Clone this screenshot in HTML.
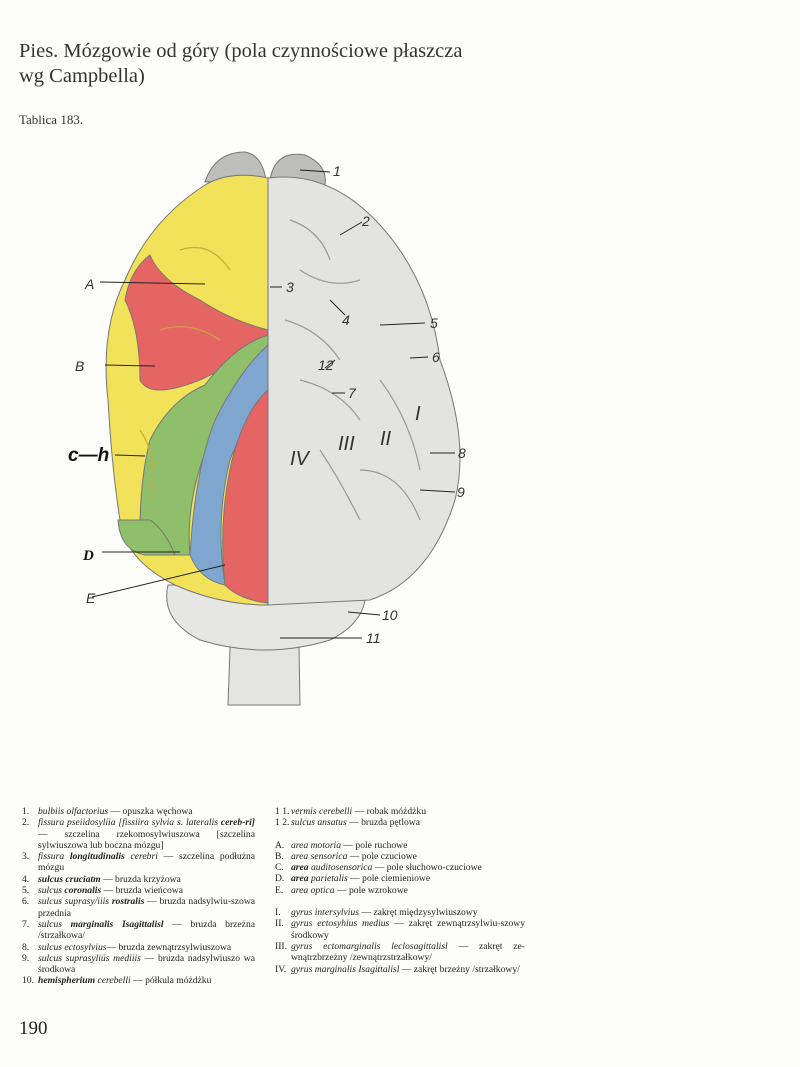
<!DOCTYPE html>
<html><head><meta charset="utf-8"><style>
body{margin:0;background:#fff;}
.pg{position:relative;width:800px;height:1067px;background:#fdfdfc;overflow:hidden;font-family:"Liberation Serif",serif;color:#222;}
.t{position:absolute;left:19px;top:39px;font-size:20.5px;line-height:25px;color:#333;}
.tab{position:absolute;left:19px;top:112px;font-size:13px;color:#333;}
.leg{position:absolute;font-size:9.6px;line-height:11.3px;color:#222;}
.leg div{position:relative;padding-left:16px;text-align:justify;}
.leg span.n{position:absolute;left:0;}
.pn{position:absolute;left:19px;top:1018px;font-size:19px;}
</style></head><body><div class="pg">
<div class="t">Pies. Mózgowie od góry (pola czynnościowe płaszcza<br>wg Campbella)</div>
<div class="tab">Tablica 183.</div>
<svg style="position:absolute;left:0;top:0" width="800" height="800">
<g stroke="#777" stroke-width="1">
<path d="M232 590 L228 705 L300 705 L298 590Z" fill="#e4e4e2"/>
<path d="M168 585 Q160 620 200 640 Q265 660 330 640 Q370 620 365 585Z" fill="#e6e6e4"/>
<path d="M205 182 Q215 152 245 152 Q262 155 266 180Z" fill="#bdbdbb"/>
<path d="M270 180 Q275 150 305 155 Q328 165 325 185Z" fill="#bdbdbb"/>
<path d="M268 178 Q330 170 380 225 Q430 280 440 360 Q470 440 455 500 Q430 580 370 600 L268 605Z" fill="#e3e3e1"/>
<path d="M268 178 Q230 170 205 185 Q150 220 125 280 Q100 330 108 400 Q112 470 120 520 Q125 560 175 585 Q220 605 268 605Z" fill="#f1e25a"/>
<path d="M268 330 Q230 320 200 300 Q160 280 150 255 Q130 270 125 300 Q140 330 140 380 Q150 400 200 380 Q240 360 268 355Z" fill="#e56565"/>
<path d="M268 335 Q235 345 205 385 Q170 400 150 440 Q140 480 140 530 Q150 550 170 555 L190 555 Q185 500 210 440 Q235 380 268 350Z" fill="#8fbf6a"/>
<path d="M268 345 Q240 370 215 420 Q195 470 190 555 Q200 580 225 585 Q215 520 230 460 Q250 410 268 390Z" fill="#7ea6cf"/>
<path d="M268 390 Q245 410 232 460 Q218 520 225 585 Q240 600 268 603Z" fill="#e56565"/>
<path d="M118 520 Q120 550 145 555 L175 555 Q165 530 150 520Z" fill="#8fbf6a"/>
</g>
<g fill="none" stroke="#999" stroke-width="1.2">
<path d="M290 220 Q320 230 330 260 M300 270 Q330 290 360 280 M285 320 Q320 330 340 360 M300 380 Q340 390 360 420 M320 450 Q340 480 360 520 M360 470 Q400 470 420 520 M380 380 Q410 420 420 470"/>
<path d="M180 250 Q210 240 230 270 M160 330 Q190 320 220 340 M140 430 Q160 460 150 500" stroke="#c9a93a"/>
</g>
<g stroke="#222" stroke-width="1" fill="none">
<path d="M300 170 L330 172 M340 235 L362 222 M270 287 L282 287 M330 300 L345 315 M380 325 L425 323 M410 358 L428 357 M325 368 L335 360 M332 393 L345 393 M430 453 L455 453 M420 490 L455 492 M348 612 L380 615 M280 638 L362 638 M100 282 L205 284 M105 365 L155 366 M115 455 L145 456 M102 552 L180 552 M92 597 L225 565"/>
</g>
<g font-family="Liberation Sans,sans-serif" font-style="italic" font-size="14" fill="#333">
<text x="333" y="176">1</text><text x="362" y="226">2</text><text x="286" y="292">3</text><text x="342" y="325">4</text><text x="430" y="328">5</text><text x="432" y="362">6</text><text x="318" y="370">12</text><text x="348" y="398">7</text><text x="458" y="458">8</text><text x="457" y="497">9</text><text x="382" y="620">10</text><text x="366" y="643">11</text>
<text x="85" y="289">A</text><text x="75" y="371">B</text><text x="86" y="603">E</text>
<text x="290" y="465" font-size="20">IV</text><text x="338" y="450" font-size="20">III</text><text x="380" y="445" font-size="20">II</text><text x="415" y="420" font-size="20">I</text>
<text x="68" y="461" font-weight="bold" font-size="19" fill="#111">c—h</text>
<text x="83" y="560" font-family="Liberation Serif,serif" font-weight="bold" font-size="15" fill="#111">D</text>
</g>
</svg>
<div class="leg" style="left:22px;top:806px;width:233px">
<div><span class="n">1.</span><i>bulbiis olfactorius</i> — opuszka węchowa</div>
<div><span class="n">2.</span><i>fissura pseiidosylíia [fissiira sylvia s. lateralis <b>cereb-ri]</b></i> — szczelina rzekomosylwiuszowa [szczelina sylwiuszowa lub boczna mózgu]</div>
<div><span class="n">3.</span><i>fissura <b>longitudinalis</b> cerebri</i> — szczelina podłużna mózgu</div>
<div><span class="n">4.</span><b><i>sulcus cruciatm</i></b> — bruzda krzyżowa</div>
<div><span class="n">5.</span><i>sulcus <b>coronalis</b></i> — bruzda wieńcowa</div>
<div><span class="n">6.</span><i>sulcus suprasy/iiis <b>rostralis</b></i> — bruzda nadsylwiu-szowa przednia</div>
<div><span class="n">7.</span><i>sulcus <b>marginalis Isagittalisl</b></i> — bruzda brzeżna /strzałkowa/</div>
<div><span class="n">8.</span><i>sulcus ectosylvius</i>— bruzda zewnątrzsylwiuszowa</div>
<div><span class="n">9.</span><i>sulcus suprasyliüs mediiis</i> — bruzda nadsylwiuszo wa środkowa</div>
<div><span class="n">10.</span><b><i>hemispherium</i></b> <i>cerebelli</i> — półkula móżdżku</div>
</div>
<div class="leg" style="left:275px;top:806px;width:250px">
<div><span class="n">1 1.</span><i>vermis cerebelli</i> — robak móżdżku</div>
<div><span class="n">1 2.</span><i>sulcus ansatus</i> — bruzda pętlowa</div>
<div style="height:11px"></div>
<div><span class="n">A.</span><i>area motoria</i> — pole ruchowe</div>
<div><span class="n">B.</span><i>area sensorica</i> — pole czuciowe</div>
<div><span class="n">C.</span><i><b>area</b> auditosensorica</i> — pole słuchowo-czuciowe</div>
<div><span class="n">D.</span><i><b>area</b> parietalis</i> — pole ciemieniowe</div>
<div><span class="n">E.</span><i>area optica</i> — pole wzrokowe</div>
<div style="height:11px"></div>
<div><span class="n">I.</span><i>gyrus intersylvius</i> — zakręt międzysylwiuszowy</div>
<div><span class="n">II.</span><i>gyrus ectosyhius medius</i> — zakręt zewnątrzsylwiu-szowy środkowy</div>
<div><span class="n">III.</span><i>gyrus ectomarginalis leclosagittalisl</i> — zakręt ze-wnątrzbrzeżny /zewnątrzstrzałkowy/</div>
<div><span class="n">IV.</span><i>gyrus marginalis Isagittalisl</i> — zakręt brzeżny /strzałkowy/</div>
</div>
<div class="pn">190</div>
</div></body></html>
